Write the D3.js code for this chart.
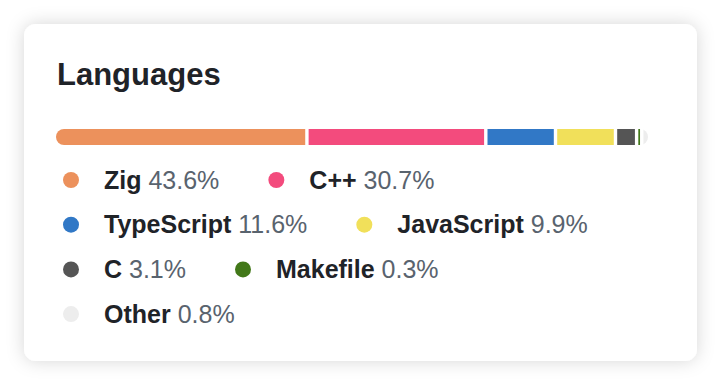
<!DOCTYPE html>
<html>
<head>
<meta charset="utf-8">
<script src="https://cdn.jsdelivr.net/npm/d3@7"></script>
<style>
  html, body { margin: 0; padding: 0; background: #fff; }
  svg { display: block; font-family: "Liberation Sans", Arial, sans-serif; }
</style>
</head>
<body>
<div id="chart"></div>
<script>
'use strict';

var languages = ['Zig', 'C++', 'TypeScript', 'JavaScript', 'C', 'Makefile', 'Other'];
var percents = [43.6, 30.7, 11.6, 9.9, 3.1, 0.3, 0.8];
var colors = ['#ec915c', '#f34b7d', '#3178c6', '#f1e05a', '#555555', '#427819', '#ededed'];

var W = 722, H = 386;
var CARD = {x: 24, y: 24, w: 673, h: 337, r: 12};
var BAR = {x: 56, y: 129, w: 592, h: 16, gap: 3.4};
var LEGEND = {x: 63, y: 180, rowH: 44.7, maxX: 640, itemGap: 49, dotR: 8, textOff: 41};

var svg = d3.select('#chart').append('svg')
  .attr('width', W)
  .attr('height', H);

var defs = svg.append('defs');

var shadow = defs.append('filter')
  .attr('id', 'shadow')
  .attr('x', '-10%').attr('y', '-15%')
  .attr('width', '120%').attr('height', '130%');
shadow.append('feDropShadow')
  .attr('dx', 0).attr('dy', 0)
  .attr('stdDeviation', 9)
  .attr('flood-color', '#000')
  .attr('flood-opacity', 0.16);

svg.append('rect')
  .attr('x', CARD.x).attr('y', CARD.y)
  .attr('width', CARD.w).attr('height', CARD.h)
  .attr('rx', CARD.r)
  .attr('fill', '#fff')
  .attr('filter', 'url(#shadow)');

svg.append('text')
  .attr('x', 57).attr('y', 85)
  .attr('font-size', '31px')
  .attr('font-weight', 'bold')
  .attr('fill', '#1f2328')
  .text('Languages');

// progress bar: segments share the width left over after the gaps
var data = languages.map(function(d, i) {
  return {name: d, value: percents[i], color: colors[i]};
});

var usable = BAR.w - BAR.gap * (data.length - 1);
var x = d3.scaleLinear().domain([0, 100]).range([0, usable]);

var cum = 0;
data.forEach(function(d, i) {
  d.x0 = BAR.x + x(cum) + i * BAR.gap;
  d.w = x(d.value);
  cum += d.value;
});

defs.append('clipPath').attr('id', 'barclip')
  .append('rect')
  .attr('x', BAR.x).attr('y', BAR.y)
  .attr('width', BAR.w).attr('height', BAR.h)
  .attr('rx', BAR.h / 2);

svg.append('g')
  .attr('clip-path', 'url(#barclip)')
  .selectAll('rect')
  .data(data)
  .enter().append('rect')
  .attr('x', function(d) { return d.x0; })
  .attr('y', BAR.y)
  .attr('width', function(d) { return d.w; })
  .attr('height', BAR.h)
  .attr('fill', function(d) { return d.color; });

// legend, laid out as wrapping inline items
var legend = svg.append('g')
  .attr('font-size', '25px');

var cx = LEGEND.x, row = 0;
data.forEach(function(d) {
  var g = legend.append('g');
  var t = g.append('text')
    .attr('x', LEGEND.textOff)
    .attr('y', 8.5);
  t.append('tspan')
    .attr('font-weight', 'bold')
    .attr('fill', '#1f2328')
    .text(d.name);
  t.append('tspan')
    .attr('fill', '#59636e')
    .text(' ' + d.value.toFixed(1) + '%');
  var itemW = LEGEND.textOff + t.node().getComputedTextLength();
  if (cx > LEGEND.x && cx + itemW > LEGEND.maxX) {
    row += 1;
    cx = LEGEND.x;
  }
  g.attr('transform', 'translate(' + cx + ',' + (LEGEND.y + row * LEGEND.rowH) + ')');
  g.insert('circle', 'text')
    .attr('cx', LEGEND.dotR)
    .attr('cy', 0)
    .attr('r', LEGEND.dotR)
    .attr('fill', d.color);
  cx += itemW + LEGEND.itemGap;
});
</script>
</body>
</html>
